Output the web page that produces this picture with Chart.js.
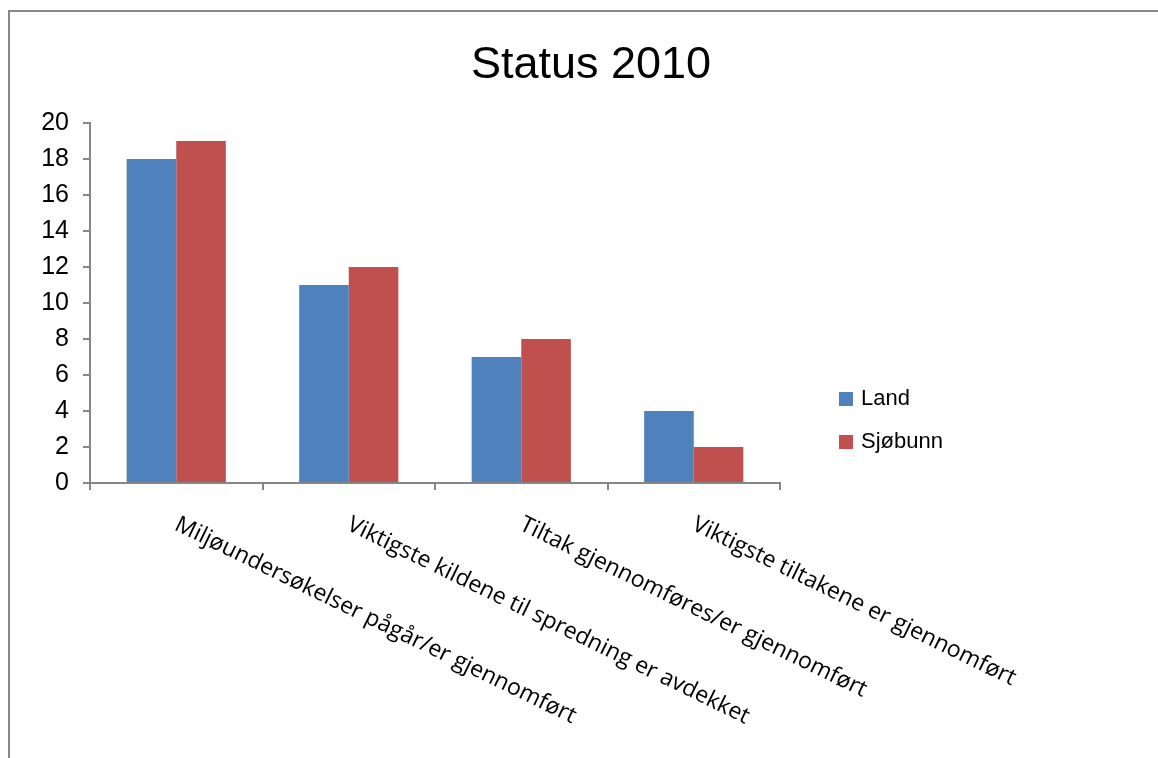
<!DOCTYPE html>
<html lang="no">
<head>
  <meta charset="UTF-8">
  <title>Status 2010</title>
  <style>
    body {
      margin: 0;
      padding: 0;
      background: #ffffff;
      overflow: hidden;
    }

    .frame {
      position: absolute;
      left: 8px;
      top: 10px;
      width: 1200px;
      height: 800px;
      border-top: 2px solid #878787;
      border-left: 2px solid #878787;
    }

    .wrap {
      position: absolute;
      left: 0;
      top: 0;
      width: 1158px;
      height: 758px;
    }
  </style>
  <script src="https://cdn.jsdelivr.net/npm/chart.js"></script>
</head>
<body>
  <div class="frame"></div>
  <div class="wrap">
    <canvas id="chart-status"></canvas>
  </div>

  <script>
    // Data
    const kategorier = [
      'Miljøundersøkelser pågår/er gjennomført',
      'Viktigste kildene til spredning er avdekket',
      'Tiltak gjennomføres/er gjennomført',
      'Viktigste tiltakene er gjennomført'
    ];
    const land = [18, 11, 7, 4];
    const sjobunn = [19, 12, 8, 2];
    const yTicks = [0, 2, 4, 6, 8, 10, 12, 14, 16, 18, 20];

    const BLUE = '#4F81BD';
    const RED = '#C0504D';
    const AXIS = '#868686';

    // Skrå kategorietiketter (leses nedover mot høyre)
    const skraEtiketter = {
      id: 'skraEtiketter',
      afterDraw(chart) {
        const ctx = chart.ctx;
        const xs = chart.scales.x;
        ctx.save();
        ctx.fillStyle = '#000';
        ctx.font = '23px "Open Sans", sans-serif';
        ctx.textAlign = 'left';
        ctx.textBaseline = 'top';
        kategorier.forEach((txt, i) => {
          const x = xs.getPixelForValue(i);
          ctx.save();
          ctx.translate(x + 5, xs.top + 30);
          ctx.rotate(26 * Math.PI / 180);
          ctx.fillText(txt, 0, 0);
          ctx.restore();
        });
        ctx.restore();
      }
    };

    // Forklaring til høyre
    const forklaring = {
      id: 'forklaring',
      afterDraw(chart) {
        const ctx = chart.ctx;
        ctx.save();
        ctx.font = '22px "Liberation Sans", Arial, sans-serif';
        ctx.textBaseline = 'middle';
        ctx.textAlign = 'left';
        chart.data.datasets.forEach((ds, i) => {
          const y = 399 + i * 43;
          ctx.fillStyle = ds.backgroundColor;
          ctx.fillRect(839, y - 7, 14, 14);
          ctx.fillStyle = '#000';
          ctx.fillText(ds.label, 861, y);
        });
        ctx.restore();
      }
    };

    const ctx = document.getElementById('chart-status').getContext('2d');
    new Chart(ctx, {
      type: 'bar',
      data: {
        labels: kategorier,
        datasets: [
          {
            label: 'Land',
            data: land,
            backgroundColor: BLUE,
            borderWidth: 0,
            barPercentage: 1,
            categoryPercentage: 0.575
          },
          {
            label: 'Sjøbunn',
            data: sjobunn,
            backgroundColor: RED,
            borderWidth: 0,
            barPercentage: 1,
            categoryPercentage: 0.575
          }
        ]
      },
      options: {
        responsive: true,
        maintainAspectRatio: false,
        animation: false,
        layout: { padding: { left: 24, top: 0, right: 0, bottom: 0 } },
        plugins: {
          legend: { display: false },
          tooltip: { enabled: false },
          title: {
            display: true,
            text: 'Status 2010',
            color: '#000',
            font: { family: '"Liberation Sans", Arial, sans-serif', size: 45, weight: 'normal' },
            padding: { top: 39, bottom: 30 }
          }
        },
        scales: {
          x: {
            grid: {
              offset: true,
              drawOnChartArea: false,
              drawTicks: true,
              tickLength: 7,
              tickColor: AXIS,
              lineWidth: 2
            },
            border: { color: AXIS, width: 2 },
            ticks: { display: false },
            afterFit: s => { s.height = 275; }
          },
          y: {
            min: 0,
            max: 20,
            afterBuildTicks: s => { s.ticks = yTicks.map(v => ({ value: v })); },
            grid: {
              drawOnChartArea: false,
              drawTicks: true,
              tickLength: 7,
              tickColor: AXIS,
              lineWidth: 2
            },
            border: { color: AXIS, width: 2 },
            ticks: {
              color: '#000',
              padding: 14,
              font: { family: '"Liberation Sans", Arial, sans-serif', size: 25 }
            },
            afterFit: s => { s.width = 66; }
          },
          pad: {
            type: 'linear',
            position: 'right',
            display: true,
            grid: { display: false },
            border: { display: false },
            ticks: { display: false },
            afterFit: s => { s.width = 378; }
          }
        }
      },
      plugins: [skraEtiketter, forklaring]
    });
  </script>
</body>
</html>
